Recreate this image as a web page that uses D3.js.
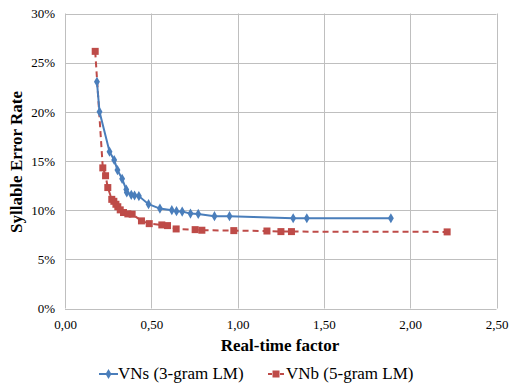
<!DOCTYPE html>
<html><head><meta charset="utf-8">
<script src="https://cdn.jsdelivr.net/npm/d3@7"></script>
</head><body style="margin:0">
<script>
const xTicks = [0, 0.5, 1.0, 1.5, 2.0, 2.5];
const yTicks = [0, 0.05, 0.10, 0.15, 0.20, 0.25, 0.30];
const seriesNames = ["VNs (3-gram LM)", "VNb (5-gram LM)"];
const vnsX = [0.185, 0.200, 0.258, 0.285, 0.304, 0.331, 0.355, 0.358, 0.384, 0.403, 0.428, 0.484, 0.550, 0.619, 0.646, 0.679, 0.727, 0.772, 0.866, 0.953, 1.322, 1.401, 1.888];
const vnsY = [0.2306, 0.200, 0.1595, 0.151, 0.1408, 0.1319, 0.121, 0.118, 0.1156, 0.1149, 0.1143, 0.1061, 0.1016, 0.100, 0.099, 0.0986, 0.0965, 0.0962, 0.0939, 0.0939, 0.0918, 0.0918, 0.0918];
const vnbX = [0.175, 0.219, 0.235, 0.248, 0.271, 0.283, 0.295, 0.306, 0.320, 0.339, 0.364, 0.389, 0.443, 0.488, 0.561, 0.594, 0.644, 0.754, 0.793, 0.978, 1.170, 1.251, 1.312, 2.214];
const vnbY = [0.2615, 0.143, 0.135, 0.123, 0.111, 0.109, 0.106, 0.1035, 0.1003, 0.0976, 0.0962, 0.0959, 0.0891, 0.0863, 0.085, 0.0843, 0.0809, 0.0802, 0.0796, 0.0792, 0.0788, 0.0782, 0.0782, 0.0779];

const W = 509, H = 383;
const FONT = "Liberation Serif";
const svg = d3.select("body").append("svg").attr("width", W).attr("height", H).style("display", "block");
const x = d3.scaleLinear().domain([0, 2.5]).range([65, 496.5]);
const y = d3.scaleLinear().domain([0, 0.30]).range([308.5, 13.5]);
const grid = "#bfbfbf";

svg.append("g").selectAll("line").data(yTicks).join("line")
  .attr("x1", x(0)).attr("x2", x(2.5)).attr("y1", d => Math.round(y(d)) + 0.5).attr("y2", d => Math.round(y(d)) + 0.5)
  .attr("stroke", grid).attr("stroke-width", 1);
svg.append("g").selectAll("line").data(xTicks).join("line")
  .attr("y1", y(0)).attr("y2", y(0.30)).attr("x1", d => Math.round(x(d)) + 0.5).attr("x2", d => Math.round(x(d)) + 0.5)
  .attr("stroke", grid).attr("stroke-width", 1);

const fmtX = d => d3.format(".2f")(d).replace(".", ",");
const xAxis = svg.append("g").attr("transform", `translate(0,${y(0)})`)
  .call(d3.axisBottom(x).tickValues(xTicks).tickFormat(fmtX).tickSize(0).tickPadding(11));
xAxis.attr("font-family", FONT).attr("font-size", 13);
xAxis.select(".domain").remove();
xAxis.selectAll("text").attr("fill", "#000");
const yAxis = svg.append("g").attr("transform", `translate(${x(0)},0)`)
  .call(d3.axisLeft(y).tickValues(yTicks).tickFormat(d3.format(".0%")).tickSize(0).tickPadding(10));
yAxis.attr("font-family", FONT).attr("font-size", 13);
yAxis.select(".domain").remove();
yAxis.selectAll("text").attr("fill", "#000");

svg.append("text").attr("x", 280).attr("y", 351).attr("text-anchor", "middle").attr("font-family", FONT)
  .attr("font-size", 17).attr("font-weight", "bold").text("Real-time factor");
svg.append("text").attr("transform", "translate(22,162) rotate(-90)").attr("text-anchor", "middle").attr("font-family", FONT)
  .attr("font-size", 17).attr("font-weight", "bold").text("Syllable Error Rate");

const blue = "#4a7ebb", red = "#be4b48";
const vns = vnsX.map((v, i) => [v, vnsY[i]]);
const vnb = vnbX.map((v, i) => [v, vnbY[i]]);
const line = d3.line().x(d => x(d[0])).y(d => y(d[1]));

svg.append("path").datum(vnb).attr("d", line).attr("fill", "none").attr("stroke", red)
  .attr("stroke-width", 2).attr("stroke-dasharray", "6,4");
svg.append("g").selectAll("rect").data(vnb).join("rect")
  .attr("x", d => x(d[0]) - 3.5).attr("y", d => y(d[1]) - 3.5).attr("width", 7).attr("height", 7).attr("fill", red);

svg.append("path").datum(vns).attr("d", line).attr("fill", "none").attr("stroke", blue).attr("stroke-width", 2);
const diamond = d3.symbol().type(d3.symbolDiamond).size(30);
svg.append("g").selectAll("path").data(vns).join("path")
  .attr("transform", d => `translate(${x(d[0])},${y(d[1])})`).attr("d", diamond).attr("fill", blue);

const lg = svg.append("g");
lg.append("line").attr("x1", 99).attr("x2", 118).attr("y1", 374).attr("y2", 374).attr("stroke", blue).attr("stroke-width", 2);
lg.append("path").attr("transform", "translate(108.5,374)").attr("d", diamond).attr("fill", blue);
lg.append("text").attr("x", 118).attr("y", 379).attr("font-family", FONT).attr("font-size", 17).text(seriesNames[0]);
lg.append("line").attr("x1", 268).attr("x2", 284).attr("y1", 374).attr("y2", 374).attr("stroke", red).attr("stroke-width", 2).attr("stroke-dasharray", "4,2");
lg.append("rect").attr("x", 272.5).attr("y", 370.5).attr("width", 7).attr("height", 7).attr("fill", red);
lg.append("text").attr("x", 286).attr("y", 379).attr("font-family", FONT).attr("font-size", 17).text(seriesNames[1]);
</script>
</body></html>
